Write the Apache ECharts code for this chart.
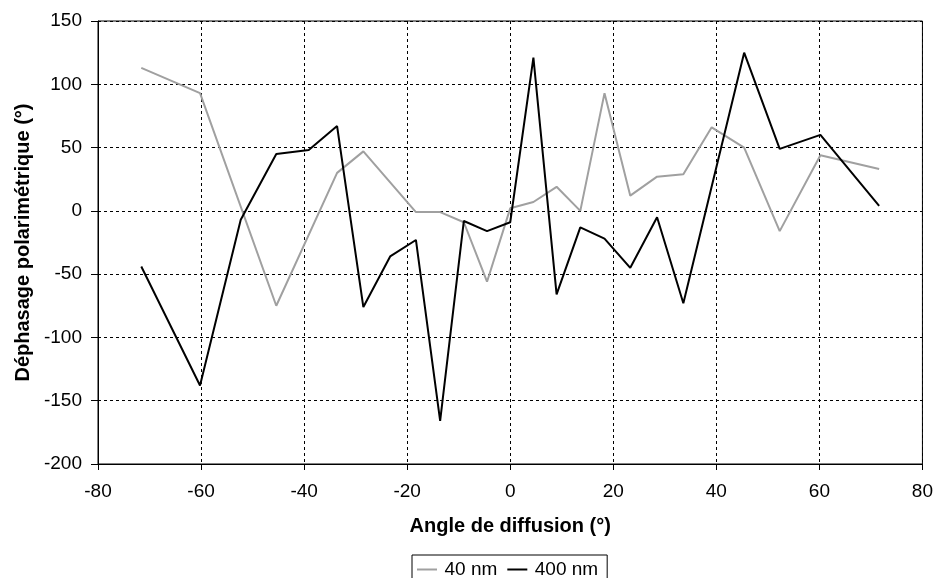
<!DOCTYPE html>
<html>
<head>
<meta charset="utf-8">
<script src="https://cdn.jsdelivr.net/npm/echarts@6/dist/echarts.min.js"></script>
<style>
html, body { margin: 0; padding: 0; background: #fff; }
#chart { width: 936px; height: 578px; }
</style>
</head>
<body>
<div id="chart"></div>
<script>
// 40 nm
var x40 = [-71.6, -60.2, -45.4, -33.6, -28.5, -18.3, -13.6, -9.0, -4.5, 0.0, 4.5, 9.0, 13.6, 18.3, 23.3, 28.5, 33.6, 39.1, 45.4, 52.3, 60.2, 71.6];
var y40 = [113, 93, -75, 30, 47, -1, -1, -9, -56, 2, 7, 19, 0, 93, 12, 27, 29, 66, 50, -16, 44, 33];
// 400 nm
var x400 = [-71.6, -60.2, -52.3, -45.4, -39.1, -33.6, -28.5, -23.3, -18.3, -13.6, -9.0, -4.5, 0.0, 4.5, 9.0, 13.6, 18.3, 23.3, 28.5, 33.6, 45.4, 52.3, 60.2, 71.6];
var y400 = [-44, -138, -7, 45, 48, 67, -76, -36, -23, -166, -8, -16, -9, 121, -66, -13, -22, -45, -5, -73, 125, 49, 60, 4];

function pairs(xs, ys) {
    var out = [];
    for (var i = 0; i < xs.length; i++) out.push([xs[i], ys[i]]);
    return out;
}

var chart = echarts.init(document.getElementById('chart'));
var font = 'Liberation Sans, Arial, sans-serif';
var lineIcon = 'path://M0,0 L10,0 L10,1 L0,1 Z';
chart.setOption({
    animation: false,
    textStyle: { fontFamily: font },
    grid: {
        left: 98, right: 11, top: 21, bottom: 114,
        show: true,
        borderColor: '#000',
        borderWidth: 1
    },
    legend: {
        top: 555,
        left: 412,
        itemWidth: 25,
        itemHeight: 2,
        itemGap: 10,
        padding: [5, 9, 5, 5],
        borderColor: '#000',
        borderWidth: 1,
        borderRadius: 0,
        textStyle: { fontSize: 19, color: '#000', fontFamily: font },
        data: [
            { name: '40 nm', icon: lineIcon },
            { name: '400 nm', icon: lineIcon }
        ]
    },
    xAxis: {
        type: 'value',
        min: -80, max: 80, interval: 20,
        name: 'Angle de diffusion (°)',
        nameLocation: 'middle',
        nameGap: 52,
        nameTextStyle: { fontSize: 20, fontWeight: 'bold', color: '#000', fontFamily: font },
        axisLine: { onZero: false, lineStyle: { color: '#000' } },
        axisTick: { show: true, length: 6, lineStyle: { color: '#000' } },
        axisLabel: { fontSize: 19, color: '#000', margin: 18 },
        splitLine: { show: true, lineStyle: { color: '#000', type: [3, 3], width: 1 } }
    },
    yAxis: {
        type: 'value',
        min: -200, max: 150, interval: 50,
        name: 'Déphasage polarimétrique (°)',
        nameLocation: 'middle',
        nameGap: 60,
        nameTextStyle: { fontSize: 20, fontWeight: 'bold', color: '#000', fontFamily: font },
        axisLine: { show: true, onZero: false, lineStyle: { color: '#000' } },
        axisTick: { show: true, length: 7, lineStyle: { color: '#000' } },
        axisLabel: { fontSize: 19, color: '#000', margin: 16 },
        splitLine: { show: true, lineStyle: { color: '#000', type: [3, 3], width: 1 } }
    },
    series: [
        {
            name: '40 nm',
            type: 'line',
            symbol: 'none',
            color: '#a0a0a0',
            lineStyle: { color: '#a0a0a0', width: 2 },
            data: pairs(x40, y40)
        },
        {
            name: '400 nm',
            type: 'line',
            symbol: 'none',
            color: '#000',
            lineStyle: { color: '#000', width: 2 },
            data: pairs(x400, y400)
        }
    ]
});
</script>
</body>
</html>
